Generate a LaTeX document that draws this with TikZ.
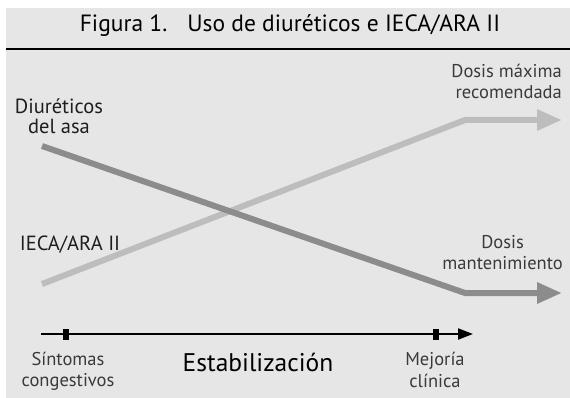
\documentclass[tikz,border=0pt]{standalone}
\usepackage{fontspec}
\setmainfont{PT Sans}
\usetikzlibrary{positioning, arrows.meta}
\definecolor{fondo}{HTML}{E6E6E6}
\definecolor{grisclaro}{HTML}{BDBDBD}
\definecolor{grisoscuro}{HTML}{8C8C8C}
\definecolor{texto}{HTML}{1E1E1E}
\definecolor{textosuave}{HTML}{3A3A3A}

\begin{document}
\begin{tikzpicture}[
x=1pt, y=-1pt,
every node/.style={
inner sep=0pt,
font=\fontsize{20.5}{20}\selectfont,
text=texto
},
etiqueta/.style={font=\fontsize{18.5}{21.5}\selectfont, text=textosuave},
curva/.style={line width=6pt, -{Triangle[length=25pt, width=20pt]}},
hito/.style={fill=black, minimum width=6pt, minimum height=11pt}
]
\useasboundingbox (0,0) rectangle (570,398);
\fill[fondo] (6,8) rectangle (570,398);
\draw[line width=2.5pt] (6,49) -- (570,49);
\node[font=\fontsize{23.5}{27}\selectfont, text=black, anchor=base] (titulo) at (290,32) {Figura 1.\hspace{0.85em}Uso de diuréticos e IECA/ARA II};

\coordinate (iecaini) at (42,284);
\coordinate (iecacodo) at (465,120);
\coordinate (iecafin) at (562,120);
\coordinate (diurini) at (42,146);
\coordinate (diurcodo) at (465,293);
\coordinate (diurfin) at (562,293);
\draw[curva, grisclaro] (iecaini) -- (iecacodo) -- (iecafin);
\draw[curva, grisoscuro] (diurini) -- (diurcodo) -- (diurfin);

\node[align=center] (diur) at (59,116) {Diuréticos\\del asa};
\node[anchor=base] (ieca) at (70,251) {IECA/ARA II};
\node[etiqueta, align=right, anchor=east] (maxima) at (562,81.5) {Dosis máxima\\recomendada};
\node[etiqueta, align=center, anchor=east] (mant) at (563,252.5) {Dosis\\mantenimiento};

\coordinate (ini) at (41,334);
\coordinate (fin) at (473,334);
\draw[line width=2pt, -{Triangle[length=15pt, width=11pt]}] (ini) -- (fin);
\node[hito] (sintomas) at (66,334) {};
\node[hito] (mejoria) at (436,334) {};
\node[etiqueta, align=center] (sintlab) at (68,371.5) {Síntomas\\congestivos};
\node[etiqueta, align=center] (mejlab) at (435,370) {Mejoría\\clínica};
\node[font=\fontsize{25.5}{30}\selectfont, text=black, anchor=base] (estab) at (258,371) {Estabilización};
\end{tikzpicture}
\end{document}
